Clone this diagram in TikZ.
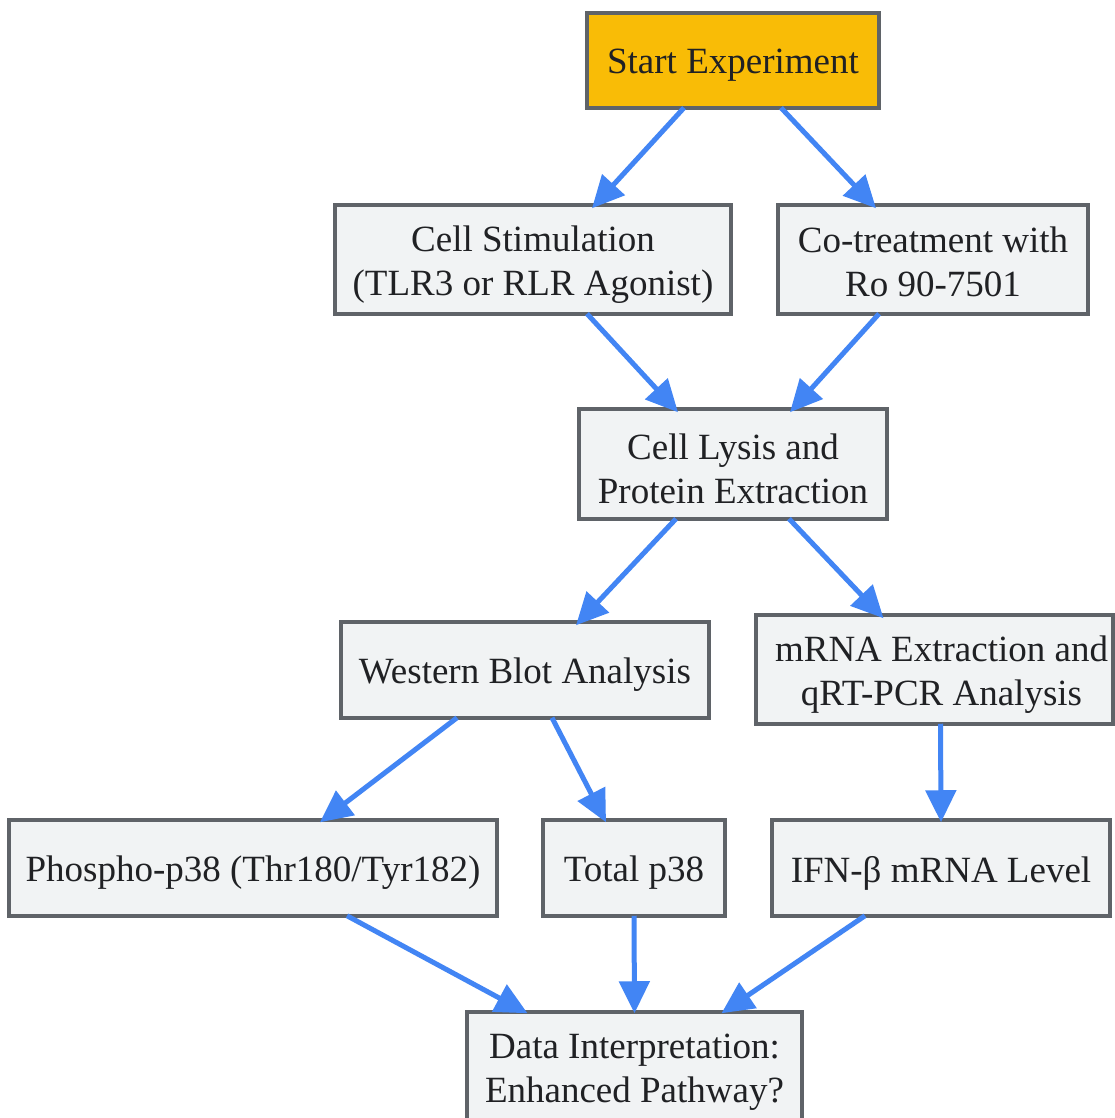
\documentclass[tikz,border=0pt]{standalone}
\usepackage{fontspec}
\setmainfont{Liberation Serif}
\usetikzlibrary{arrows.meta}
\definecolor{boxfill}{HTML}{F1F3F4}
\definecolor{boxline}{HTML}{5F6368}
\definecolor{startfill}{HTML}{F9BC06}
\definecolor{arrowc}{HTML}{4285F4}
\definecolor{txt}{HTML}{202124}
\begin{document}
\begin{tikzpicture}[x=1pt,y=-1pt,
  box/.style={draw=boxline, line width=3.5pt, fill=boxfill, inner sep=0pt},
  lbl/.style={inner sep=0pt, align=center, text=txt, font=\fontsize{37}{44}\selectfont},
  conn/.style={draw=arrowc, line width=5pt, -{Triangle[length=32pt,width=30pt]}}]
\useasboundingbox (0,0) rectangle (1115,1118);
\fill[white] (0,0) rectangle (1115,1118);
\node[box, fill=startfill, minimum width=292pt, minimum height=95pt] (s) at (733,60.5) {};
\node[box, minimum width=396pt, minimum height=109pt] (c1) at (533,259.5) {};
\node[box, minimum width=310pt, minimum height=109pt] (c2) at (933,259.5) {};
\node[box, minimum width=308pt, minimum height=110pt] (l) at (733,464) {};
\node[box, minimum width=368pt, minimum height=96pt] (wb) at (525,670) {};
\node[box, minimum width=357pt, minimum height=109pt] (m) at (934.5,669.5) {};
\node[box, minimum width=488pt, minimum height=96pt] (p) at (253,868) {};
\node[box, minimum width=182pt, minimum height=96pt] (t) at (634,868) {};
\node[box, minimum width=338pt, minimum height=96pt] (i) at (941,868) {};
\node[box, minimum width=335pt, minimum height=110pt] (d) at (634.5,1067) {};
\node[lbl] (s-t) at ([yshift=-5pt]s.center) {Start Experiment};
\node[lbl] (c1-t) at ([yshift=-5pt]c1.center) {Cell Stimulation\\(TLR3 or RLR Agonist)};
\node[lbl] (c2-t) at ([yshift=-2pt]c2.center) {Co-treatment with\\Ro 90-7501};
\node[lbl] (l-t) at ([yshift=-5pt]l.center) {Cell Lysis and\\Protein Extraction};
\node[lbl] (wb-t) at ([yshift=-5pt]wb.center) {Western Blot Analysis};
\node[lbl] (m-t) at ([xshift=7pt,yshift=-5pt]m.center) {mRNA Extraction and\\qRT-PCR Analysis};
\node[lbl] (p-t) at ([yshift=-5pt]p.center) {Phospho-p38 (Thr180/Tyr182)};
\node[lbl] (t-t) at ([yshift=-5pt]t.center) {Total p38};
\node[lbl] (i-t) at ([yshift=-5pt]i.center) {IFN-β mRNA Level};
\node[lbl] (d-t) at ([yshift=-5pt]d.center) {Data Interpretation:\\Enhanced Pathway?};
\draw[conn] ([xshift=-49pt,yshift=2pt]s.south) -- ([xshift=59pt,yshift=-5pt]c1.north);
\draw[conn] ([xshift=48pt,yshift=2pt]s.south) -- ([xshift=-57pt,yshift=-5pt]c2.north);
\draw[conn] ([xshift=54pt,yshift=2pt]c1.south) -- ([xshift=-55pt,yshift=-5pt]l.north);
\draw[conn] ([xshift=-54pt,yshift=2pt]c2.south) -- ([xshift=57pt,yshift=-5pt]l.north);
\draw[conn] ([xshift=-57pt,yshift=2pt]l.south) -- ([xshift=51pt,yshift=-5pt]wb.north);
\draw[conn] ([xshift=56pt,yshift=2pt]l.south) -- ([xshift=-51pt,yshift=-5pt]m.north);
\draw[conn] ([xshift=-68pt,yshift=2pt]wb.south) -- ([xshift=67pt,yshift=-4pt]p.north);
\draw[conn] ([xshift=27pt,yshift=2pt]wb.south) -- ([xshift=-28pt,yshift=-4pt]t.north);
\draw[conn] ([xshift=6pt,yshift=2pt]m.south) -- ([xshift=0pt,yshift=-4pt]i.north);
\draw[conn] ([xshift=94pt,yshift=2pt]p.south) -- ([xshift=-107pt,yshift=-3pt]d.north);
\draw[conn] ([yshift=2pt]t.south) -- ([yshift=-3pt]d.north);
\draw[conn] ([xshift=-76pt,yshift=2pt]i.south) -- ([xshift=87pt,yshift=-3pt]d.north);
\end{tikzpicture}
\end{document}
